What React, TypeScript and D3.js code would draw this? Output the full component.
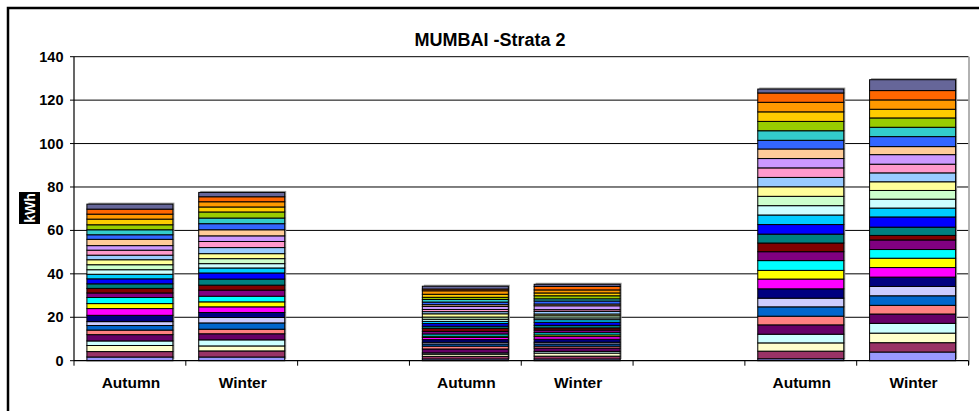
import React from "react";
import * as d3 from "d3";

const categoryLabels = ["Autumn", "Winter", "", "Autumn", "Winter", "", "Autumn", "Winter"];
const yTicks = [0, 20, 40, 60, 80, 100, 120, 140];
const seriesColors = [
  "#9999FF", "#993366", "#FFFFCC", "#CCFFFF", "#660066", "#FF8080", "#0066CC", "#CCCCFF",
  "#000080", "#FF00FF", "#FFFF00", "#00FFFF", "#800080", "#800000", "#008080", "#0000FF",
  "#00CCFF", "#CCFFFF", "#CCFFCC", "#FFFF99", "#99CCFF", "#FF99CC", "#CC99FF", "#FFCC99",
  "#3366FF", "#33CCCC", "#99CC00", "#FFCC00", "#FF9900", "#FF6600", "#666699",
];

const group1Autumn = [1.7, 2.5, 2.8, 2.1, 2.9, 2.1, 2.1, 1.8, 2.9, 3.1, 2.3, 2.8, 2.1, 2.1, 2.1, 2.3, 2.1, 2.1, 2.3, 2.3, 2.1, 2.3, 2.1, 2.9, 2.1, 2.3, 2.3, 2.6, 2.3, 2.3, 2.3];
const group1Winter = [1.7, 2.8, 2.3, 2.8, 2.8, 2.1, 2.9, 2.5, 2.3, 2.6, 2.3, 2.6, 2.8, 2.3, 2.8, 2.8, 2.3, 2.0, 2.3, 2.3, 2.8, 2.8, 2.6, 2.8, 2.8, 2.6, 2.8, 2.3, 2.4, 2.3, 2.0];
const group2Autumn = [0.8, 1.2, 1.0, 0.6, 1.8, 1.3, 1.0, 0.8, 1.2, 1.0, 0.6, 1.0, 1.2, 1.4, 1.0, 1.2, 1.0, 1.0, 1.0, 1.5, 1.0, 1.0, 1.4, 0.8, 1.2, 1.2, 1.0, 1.4, 1.6, 0.8, 1.3];
const group2Winter = [0.8, 1.3, 1.4, 0.8, 1.5, 0.9, 1.0, 0.8, 1.4, 1.2, 0.8, 1.0, 1.2, 1.0, 1.2, 1.4, 1.2, 0.8, 1.0, 0.8, 1.2, 0.8, 1.8, 0.8, 1.4, 1.0, 1.4, 1.3, 1.4, 1.6, 1.0];
const group3Autumn = [0.9, 3.5, 3.8, 4.0, 4.3, 4.0, 4.3, 4.0, 4.3, 4.5, 4.0, 4.5, 4.1, 4.0, 4.1, 4.4, 4.4, 4.3, 4.3, 4.4, 4.3, 4.4, 4.3, 4.4, 4.0, 4.4, 4.3, 4.4, 4.4, 4.3, 1.8];
const group3Winter = [4.0, 4.3, 4.4, 4.5, 4.3, 4.0, 4.4, 4.3, 4.3, 4.4, 4.3, 4.0, 4.4, 2.1, 3.8, 4.7, 4.1, 4.1, 4.0, 4.0, 4.1, 4.0, 4.4, 3.7, 4.6, 4.3, 4.3, 4.0, 4.3, 4.3, 5.0];
const blank = seriesColors.map(() => 0);

const barValues = [group1Autumn, group1Winter, blank, group2Autumn, group2Winter, blank, group3Autumn, group3Winter];

const W = 979;
const H = 411;
const FONT = "'Liberation Sans', Arial, Helvetica, sans-serif";

export default function App() {
  const plotLeft = 74;
  const plotRight = 968.5;
  const plotTop = 56.7;
  const plotBottom = 360.7;

  const x = d3.scaleBand<number>().domain(d3.range(categoryLabels.length)).range([plotLeft, plotRight]).padding(0);
  const y = d3.scaleLinear().domain([0, 140]).range([plotBottom, plotTop]);
  const barW = x.bandwidth() / 1.3;

  const keys = seriesColors.map((_, i) => i);
  const rows = barValues.map((vals, ci) => {
    const r: any = { cat: ci };
    vals.forEach((v, si) => (r[si] = v));
    return r;
  });
  const stacked = d3.stack<any, number>().keys(keys)(rows);

  return (
    <svg width={W} height={H} style={{ position: "fixed", left: 0, top: 0, background: "#fff" }} fontFamily={FONT}>
      <rect x={0} y={0} width={W} height={H} fill="#fff" />
      {/* outer chart border (right/bottom edges outside view) */}
      <rect x={8} y={8} width={1000} height={440} fill="none" stroke="#000" strokeWidth={2.5} />

      {/* title */}
      <text x={490} y={45.5} textAnchor="middle" fontSize={18} fontWeight="bold" fill="#000">
        MUMBAI -Strata 2
      </text>

      {/* gridlines */}
      {yTicks.filter((t) => t > 0).map((t) => (
        <line key={t} x1={plotLeft} x2={plotRight} y1={y(t)} y2={y(t)} stroke="#000" strokeWidth={1} />
      ))}
      {/* plot area right edge */}
      <line x1={plotRight + 0.5} x2={plotRight + 0.5} y1={plotTop} y2={plotBottom + 4} stroke="#999" strokeWidth={1.5} />

      {/* bars */}
      {categoryLabels.map((_, ci) => {
        const total = d3.sum(barValues[ci]);
        if (total <= 0) return null;
        const bx = (x(ci) as number) + (x.bandwidth() - barW) / 2;
        return (
          <rect key={"sh" + ci} x={bx + 1.5} y={y(total) - 1.5} width={barW} height={y(0) - y(total)} fill="#9a9a9a" />
        );
      })}
      {stacked.map((layer, si) => (
        <g key={si}>
          {layer.map((d, ci) => {
            const v = d[1] - d[0];
            if (v <= 0) return null;
            const bx = (x(ci) as number) + (x.bandwidth() - barW) / 2;
            return (
              <rect
                key={ci}
                x={bx}
                y={y(d[1])}
                width={barW}
                height={y(d[0]) - y(d[1])}
                fill={seriesColors[si]}
                stroke="#000"
                strokeWidth={1}
              />
            );
          })}
        </g>
      ))}

      {/* y axis */}
      <line x1={plotLeft} x2={plotLeft} y1={plotTop} y2={plotBottom} stroke="#000" strokeWidth={1.2} />
      {yTicks.map((t) => (
        <g key={t}>
          <line x1={plotLeft - 4} x2={plotLeft} y1={y(t)} y2={y(t)} stroke="#000" strokeWidth={1} />
          <text x={63.5} y={y(t) + 5} textAnchor="end" fontSize={14.5} fontWeight="bold" fill="#000">
            {t}
          </text>
        </g>
      ))}

      {/* x axis */}
      <line x1={plotLeft} x2={plotRight} y1={plotBottom} y2={plotBottom} stroke="#000" strokeWidth={1.2} />
      {d3.range(categoryLabels.length + 1).map((i) => {
        const px = plotLeft + i * x.bandwidth();
        return <line key={i} x1={px} x2={px} y1={plotBottom} y2={plotBottom + 5} stroke="#000" strokeWidth={1} />;
      })}
      {categoryLabels.map((lab, ci) => (
        <text
          key={ci}
          x={(x(ci) as number) + x.bandwidth() / 2 + 1}
          y={387.5}
          textAnchor="middle"
          fontSize={15.5}
          fontWeight="bold"
          fill="#000"
        >
          {lab}
        </text>
      ))}

      {/* y axis title */}
      <g transform="translate(29.5,208)">
        <rect x={-10.5} y={-16} width={21} height={32} fill="#000" />
        <text transform="rotate(-90)" x={0} y={5} textAnchor="middle" fontSize={14} fontWeight="bold" fill="#fff">
          kWh
        </text>
      </g>
    </svg>
  );
}
